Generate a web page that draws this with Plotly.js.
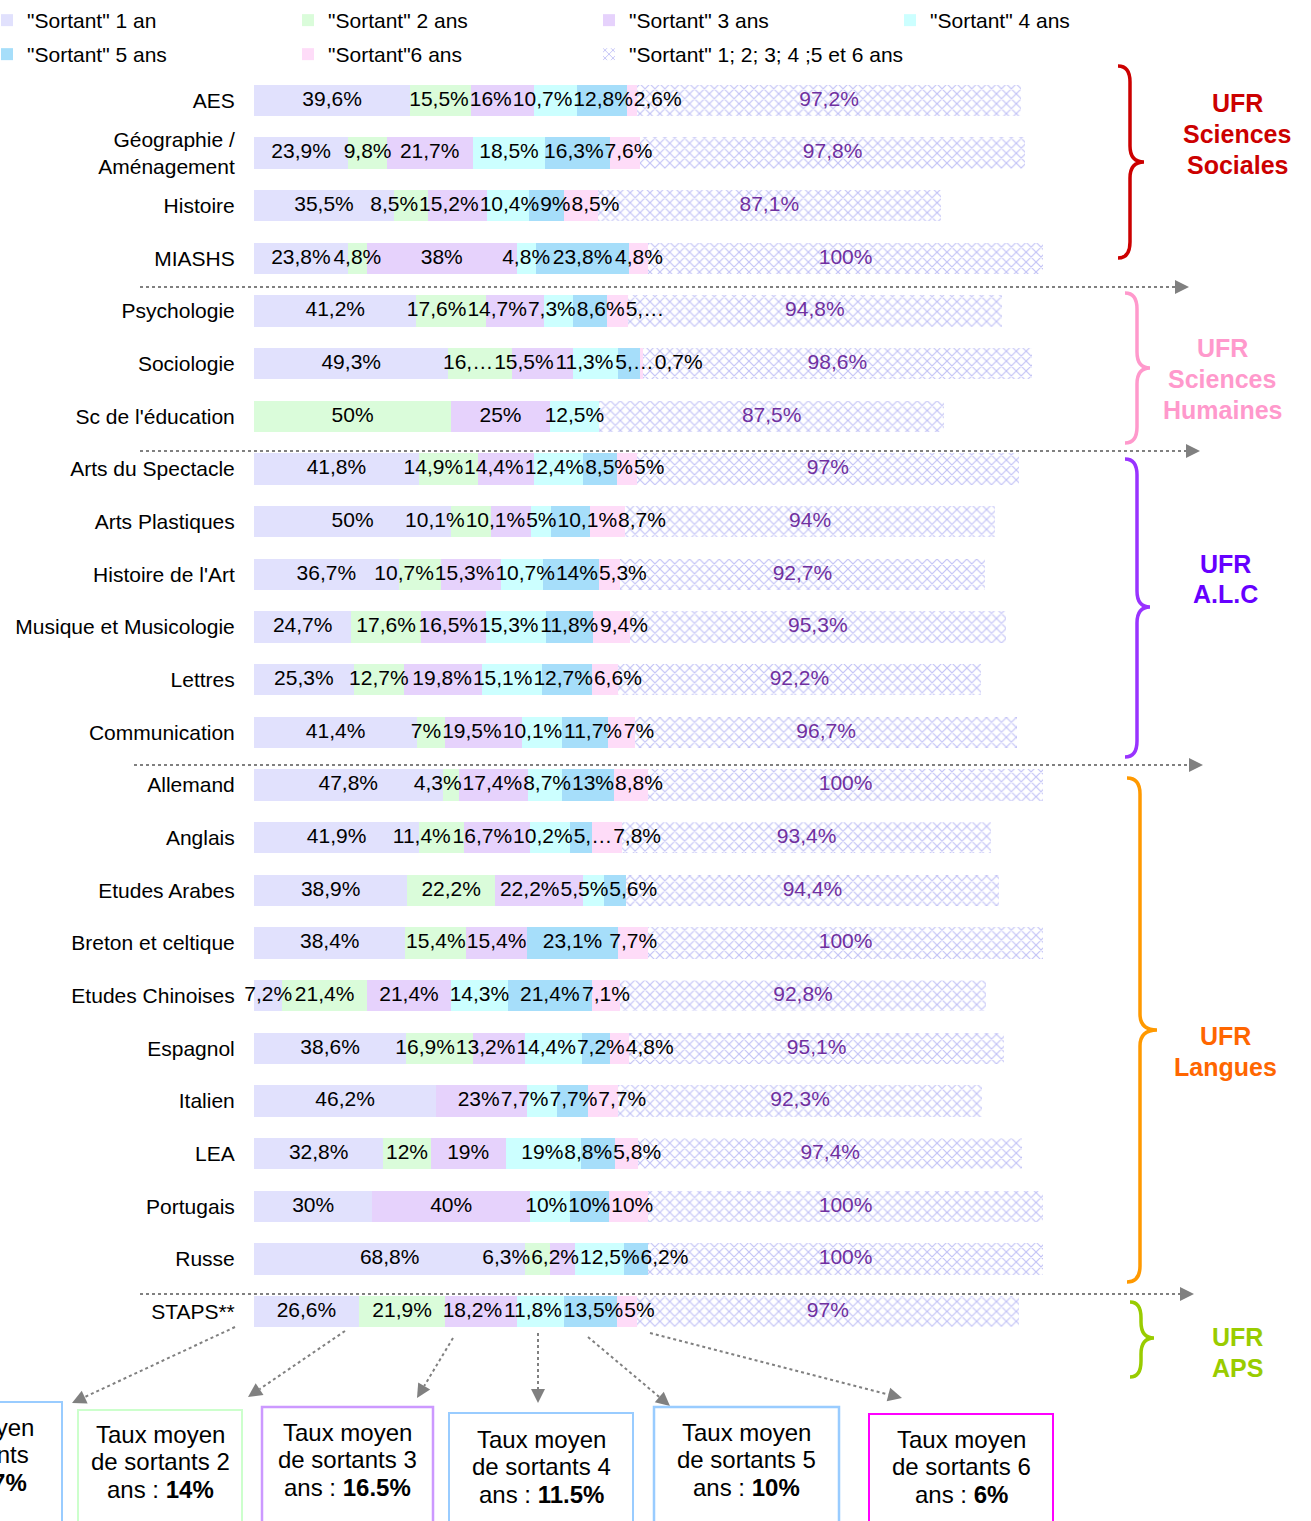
<!DOCTYPE html>
<html><head><meta charset="utf-8">
<script src="https://cdn.plot.ly/plotly-3.0.1.min.js"></script>
<style>html,body{margin:0;padding:0;background:#fff}</style>
</head><body><div id="chart" style="width:1311px;height:1521px"></div>
<script>
// ---------- DATA ----------
const categories = ['AES','Géographie /<br>Aménagement','Histoire','MIASHS','Psychologie','Sociologie',"Sc de l'éducation",'Arts du Spectacle','Arts Plastiques',"Histoire de l'Art",'Musique et Musicologie','Lettres','Communication','Allemand','Anglais','Etudes Arabes','Breton et celtique','Etudes Chinoises','Espagnol','Italien','LEA','Portugais','Russe','STAPS**'];
const sortant1 = [39.6,23.9,35.5,23.8,41.2,49.3,0,41.8,50,36.7,24.7,25.3,41.4,47.8,41.9,38.9,38.4,7.2,38.6,46.2,32.8,30,68.8,26.6];
const sortant2 = [15.5,9.8,8.5,4.8,17.6,16.2,50,14.9,10.1,10.7,17.6,12.7,7,4.3,11.4,22.2,15.4,21.4,16.9,0,12,0,6.3,21.9];
const sortant3 = [16,21.7,15.2,38,14.7,15.5,25,14.4,10.1,15.3,16.5,19.8,19.5,17.4,16.7,22.2,15.4,21.4,13.2,23,19,40,6.2,18.2];
const sortant4 = [10.7,18.5,10.4,4.8,7.3,11.3,12.5,12.4,5,10.7,15.3,15.1,10.1,8.7,10.2,5.5,0,14.3,14.4,7.7,19,10,12.5,11.8];
const sortant5 = [12.8,16.3,9,23.8,8.6,5.6,0,8.5,10.1,14,11.8,12.7,11.7,13,5.4,5.6,23.1,21.4,7.2,7.7,8.8,10,6.2,13.5];
const sortant6 = [2.6,7.6,8.5,4.8,5.4,0.7,0,5,8.7,5.3,9.4,6.6,7,8.8,7.8,0,7.7,7.1,4.8,7.7,5.8,10,0,5];
const totals   = [97.2,97.8,87.1,100,94.8,98.6,87.5,97,94,92.7,95.3,92.2,96.7,100,93.4,94.4,100,92.8,95.1,92.3,97.4,100,100,97];
const seriesNames = ['"Sortant" 1 an','"Sortant" 2 ans','"Sortant" 3 ans','"Sortant" 4 ans','"Sortant" 5 ans','"Sortant"6 ans','"Sortant" 1; 2; 3; 4 ;5 et 6 ans'];
// labels shown truncated in the original: [row, series]
const truncatedLabels = [[4,5],[5,1],[5,4],[14,4]];
const ufrNames = [['UFR','Sciences','Sociales'],['UFR','Sciences','Humaines'],['UFR','A.L.C'],['UFR','Langues'],['UFR','APS']];
const avgYears = ['1 an','2 ans','3 ans','4 ans','5 ans','6 ans'];
const avgRates = ['37%','14%','16.5%','11.5%','10%','6%'];

// ---------- STYLE ----------
const FONT = 'Liberation Sans, Arial, Helvetica, sans-serif';
const LBL = 21;
const colors = ['#E1E1FD','#DAFCDA','#E6D2FC','#CCFFFF','#A6DEFA','#FEDCF8'];
const W=1311,H=1521,L=254,R=0,T=74,B=183;
const PW=W-L-R, PH=H-T-B;
const XMAX=268, PXU=PW/XMAX;
const px=x=>(x-L)/PW, py=y=>1-(y-T)/PH;

const fmt = v => v===0 ? '' : String(v).replace('.',',')+'%';
const isTrunc = (r,s) => truncatedLabels.some(t=>t[0]===r&&t[1]===s);
const CW = {'0':.556,'1':.556,'2':.556,'3':.556,'4':.556,'5':.556,'6':.556,'7':.556,'8':.556,'9':.556,',':.278,'%':.889,'…':1};
const textW = s => [...s].reduce((a,c)=>a+(CW[c]||.556),0)*LBL;

const values = [sortant1,sortant2,sortant3,sortant4,sortant5,sortant6];
const legendOf = i => i<4 ? 'legend' : (i<6 ? 'legend2' : 'legend3');
const traces = values.map((vals,i)=>({
  type:'bar', orientation:'h', name:seriesNames[i], y:categories, x:vals,
  marker:{color:colors[i], line:{width:0}}, hoverinfo:'skip', legend:legendOf(i)
}));
traces.push({
  type:'bar', orientation:'h', name:seriesNames[6], y:categories, x:totals, legend:legendOf(6),
  marker:{color:'#ffffff', line:{width:0}, pattern:{shape:'x', fgcolor:'#C2C2F6', bgcolor:'#ffffff', size:7, solidity:0.3}},
  hoverinfo:'skip'
});
// value labels drawn on top of all bars: segment centres, nudged apart where they collide
const lx=[], ly=[], lt=[];
categories.forEach((c,j)=>{
  let base=0; const row=[];
  values.forEach((vals,i)=>{
    const v=vals[j];
    if(v>0){ const t=isTrunc(j,i) ? String(v).split('.')[0]+',…' : fmt(v);
      row.push({p:(base+v/2)*PXU, w:textW(t), t}); }
    base+=v;
  });
  const tol=-1;
  for(let it=0; it<400; it++){
    for(let k=1;k<row.length;k++){
      const ov=(row[k-1].p+row[k-1].w/2)-(row[k].p-row[k].w/2)-tol;
      if(ov>0){ row[k-1].p-=ov/2; row[k].p+=ov/2; }
    }
  }
  row.forEach(r=>{ lx.push(r.p/PXU); ly.push(c); lt.push(r.t); });
});
traces.push({type:'scatter', mode:'text', x:lx, y:ly, text:lt, textposition:'middle center',
  textfont:{family:FONT,size:LBL,color:'#000'}, showlegend:false, hoverinfo:'skip', cliponaxis:false});
const sumSix = categories.map((c,j)=>values.reduce((s,v)=>s+v[j],0));
traces.push({type:'scatter', mode:'text', x:totals.map((t,j)=>sumSix[j]+t/2), y:categories, text:totals.map(fmt),
  textposition:'middle center', textfont:{family:FONT,size:LBL,color:'#7030A0'}, showlegend:false, hoverinfo:'skip', cliponaxis:false});

// ---------- DECORATIONS ----------
const shapes=[], annotations=[];
function brace(x0,x1,x2,y0,ym,y1,color){
  const r=16;
  const p=(x,y)=>px(x)+','+py(y);
  const path = 'M'+p(x0,y0)+' Q'+p(x1,y0)+' '+p(x1,y0+r)+' L'+p(x1,ym-r)+' Q'+p(x1,ym)+' '+p(x2,ym)+
               ' Q'+p(x1,ym)+' '+p(x1,ym+r)+' L'+p(x1,y1-r)+' Q'+p(x1,y1)+' '+p(x0,y1);
  shapes.push({type:'path', xref:'paper', yref:'paper', path, line:{color, width:3.5}});
}
function arrow(x1,y1,x2,y2){
  const hl=14, hw=7;
  const dx=x2-x1, dy=y2-y1, len=Math.hypot(dx,dy), ux=dx/len, uy=dy/len;
  const bx=x2-ux*hl, by=y2-uy*hl, nx=-uy, ny=ux;
  shapes.push({type:'line', xref:'paper', yref:'paper', x0:px(x1), y0:py(y1), x1:px(bx), y1:py(by),
    line:{color:'#808080', width:2, dash:'dot'}});
  shapes.push({type:'path', xref:'paper', yref:'paper',
    path:'M'+px(x2)+','+py(y2)+' L'+px(bx+nx*hw)+','+py(by+ny*hw)+' L'+px(bx-nx*hw)+','+py(by-ny*hw)+' Z',
    fillcolor:'#808080', line:{width:0}});
}
function text(x,y,t,size,color,bold){
  annotations.push({xref:'paper',yref:'paper',x:px(x),y:py(y),text:bold?'<b>'+t+'</b>':t,showarrow:false,
    xanchor:'center',yanchor:'middle',align:'center',font:{family:FONT,size,color}});
}
// group braces
brace(1118,1130,1144,66,162,258,'#CC0000');
brace(1125,1137,1150,293,368,443,'#FF99CC');
brace(1125,1137,1150,459,607,757,'#9933FF');
brace(1127,1140,1157,778,1030,1282,'#FF9900');
brace(1130,1141,1154,1302,1338,1377,'#99CC00');
const ufrPos = [[1237,134,'#CC0000'],[1222,379,'#FF99CC'],[1225,579,'#6600FF'],[1225,1051,'#FF6600'],[1237,1352,'#99CC00']];
ufrNames.forEach((lines,i)=>{
  const n=lines.length;
  lines.forEach((t,k)=>text(ufrPos[i][0], ufrPos[i][1]+(k-(n-1)/2)*31, t, 25, ufrPos[i][2], true));
});
// separators
arrow(140,287,1189,287);
arrow(140,451,1200,451);
arrow(134,765,1203,765);
arrow(140,1294,1194,1294);
// arrows to boxes
arrow(235,1327,72,1403);
arrow(345,1331,248,1397);
arrow(453,1338,417,1398);
arrow(538,1333,538,1403);
arrow(588,1337,670,1406);
arrow(650,1333,902,1398);
// boxes
const boxes = [[-124,62,1402,'#99CCFF',2,1427],[78,242,1410,'#CCFFCC',2,1434],[262,433,1407,'#CC99FF',2.5,1432],[449,633,1413,'#99CCFF',2,1439],[654,839,1407,'#99CCFF',2.5,1432],[869,1053,1414,'#FF00FF',2,1439]];
boxes.forEach((b,i)=>{
  shapes.push({type:'rect',xref:'paper',yref:'paper',x0:px(b[0]),x1:px(b[1]),y0:py(b[2]),y1:py(1560),line:{color:b[3],width:b[4]},fillcolor:'rgba(0,0,0,0)'});
  const lines = i===0 ? ['Taux moyen','de sortants',avgYears[i]+' : <b>'+avgRates[i]+'</b>']
                      : ['Taux moyen','de sortants '+avgYears[i].split(' ')[0],'ans : <b>'+avgRates[i]+'</b>'];
  const cx=(b[0]+b[1])/2;
  lines.forEach((t,k)=>text(cx, b[5]+k*27.5, t, 24, '#000', false));
});

const legendCommon = {orientation:'h', xref:'paper', yref:'paper', xanchor:'left', yanchor:'top',
  entrywidth:256, entrywidthmode:'pixels', traceorder:'normal', itemwidth:30,
  font:{family:FONT,size:21,color:'#000'}, bgcolor:'rgba(0,0,0,0)', borderwidth:0};
const layout = {
  width:W, height:H, margin:{l:L,r:R,t:T,b:B,pad:0,autoexpand:false}, barmode:'stack', bargap:0.4,
  paper_bgcolor:'#ffffff', plot_bgcolor:'#ffffff', font:{family:FONT,size:21,color:'#000'},
  xaxis:{range:[0,XMAX], visible:false, fixedrange:true},
  yaxis:{type:'category', range:[23.5,-0.5], showgrid:false, zeroline:false, showline:false,
         ticks:'outside', ticklen:14, tickcolor:'rgba(0,0,0,0)', tickfont:{family:FONT,size:21,color:'#000'}, fixedrange:true},
  showlegend:true,
  legend: Object.assign({}, legendCommon, {x:px(-13), y:py(0)}),
  legend2: Object.assign({}, legendCommon, {x:px(-13), y:py(34)}),
  legend3: Object.assign({}, legendCommon, {x:px(589), y:py(34), entrywidth:420}),
  shapes, annotations
};
Plotly.newPlot('chart', traces, layout, {displayModeBar:false, staticPlot:true});
</script></body></html>
